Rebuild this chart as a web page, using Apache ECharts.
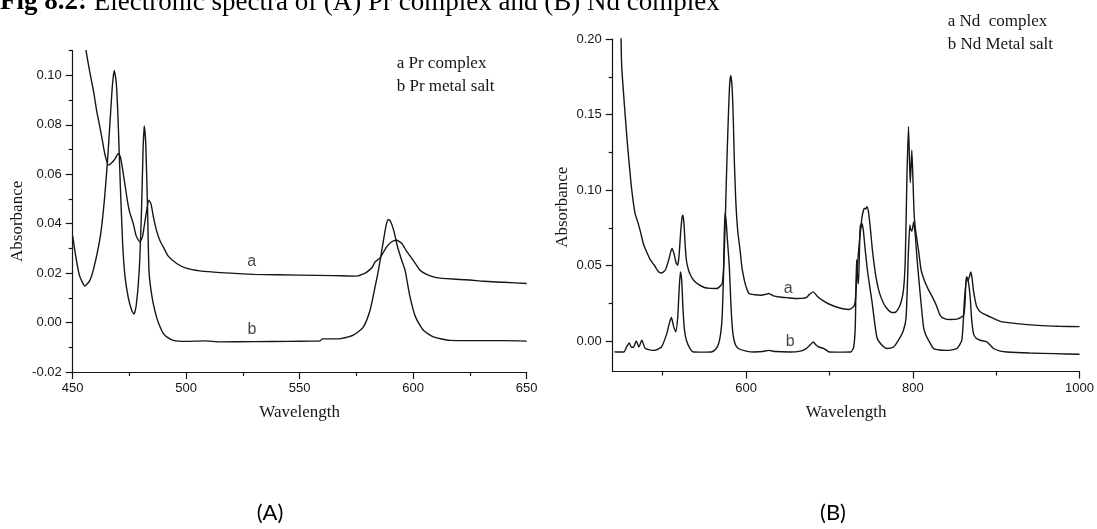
<!DOCTYPE html>
<html><head><meta charset="utf-8">
<script src="https://cdn.jsdelivr.net/npm/echarts@6/dist/echarts.min.js"></script>
<style>html,body{margin:0;padding:0;background:#fff}#c{width:1097px;height:529px}</style>
</head><body><div id="c"></div>
<script>
// ---------- DATA ----------
// (A) Pr complex (curve a)
var prComplexX = [450,452,454,455.9,457.6,459.1,460.5,462,463.2,464.2,465.7,467,468.5,470.1,471,472,473.8,475,476.7,478,479.6,480.8,482,483.6,484.5,485.5,487,488.5,489.9,492,495.8,500,506,515,530,550,565,575,578.4,580,582,583.2,585.4,588.3,590.5,592.7,595,597,600,603,605.9,608.9,612,616,625,631,640,650];
var prComplexY = [0.17,0.145,0.125,0.110,0.101,0.094,0.086,0.079,0.073,0.068,0.0637,0.0645,0.066,0.0684,0.067,0.062,0.051,0.045,0.040,0.035,0.0326,0.035,0.042,0.0495,0.048,0.043,0.037,0.033,0.0306,0.027,0.0239,0.022,0.0209,0.0202,0.0195,0.0192,0.019,0.0188,0.0198,0.0207,0.0225,0.0245,0.0262,0.0306,0.0327,0.0333,0.032,0.029,0.0252,0.0212,0.0195,0.0185,0.018,0.0177,0.0172,0.0167,0.0163,0.0158];
// (A) Pr metal salt (curve b)
var prSaltX = [450,451.5,453,455.4,457.5,459,461,462.5,464,465.3,466.5,467.5,468.3,469.2,470,471,472,473,474.5,476,477,478,479.3,480.3,481,481.5,482.2,483,483.6,484.5,485.5,487,488.5,490,491.4,494.3,500,508,515,530,545,555,559,560,565,568,573.6,578,581,583.2,584.7,586.5,588,589,590,591.5,593,595,596.4,598.6,601,604.5,608.9,616.2,630,640,650];
var prSaltY = [0.035,0.026,0.019,0.0148,0.017,0.021,0.029,0.037,0.050,0.065,0.082,0.096,0.102,0.097,0.082,0.055,0.032,0.019,0.010,0.005,0.0034,0.007,0.021,0.045,0.070,0.0796,0.072,0.045,0.021,0.013,0.0077,0.002,-0.0018,-0.0045,-0.0058,-0.0072,-0.0076,-0.0074,-0.0078,-0.0077,-0.0076,-0.0075,-0.0074,-0.0066,-0.0066,-0.0065,-0.0051,-0.0018,0.005,0.0144,0.0212,0.031,0.039,0.0417,0.041,0.037,0.031,0.025,0.0212,0.0104,0.0023,-0.0031,-0.0058,-0.0072,-0.0073,-0.0073,-0.0075];
// (B) Nd complex (curve a)
var ndComplexX = [447,450,450.8,454.8,457.6,461.6,464,466.8,470,472.8,476.7,480,485,489.9,495,498.5,503,507.1,509.5,511.3,513.5,516,517.8,519.5,521.5,523.2,524.2,525.5,527,528.4,531,534,537.1,542,549.9,557,564.9,568,571.3,573,574.8,576.5,578.5,580.3,581.6,583,584.5,586,587.6,590,592.8,595,597.9,600,603.4,610,618.4,623,627.1,633,639.9,650,661.3,667,672,676,680.6,685,691.3,700,708.4,716,723.4,727,729.9,731.5,733,735,737,739,741,742.5,743.5,745,747,749,752,756,760,765,770,775,778,782,786,789,791,793,794.8,796,797,798.8,800,801.5,803,806.8,810,814,818,822.8,828,832.8,838,844.8,850,854.8,858,860.8,862.5,864.2,866,867.5,869.6,871,872.7,874.5,876.8,882,892.8,904.8,924.8,950,975,1000];
var ndComplexY = [0.24,0.20,0.1817,0.1508,0.1309,0.1066,0.095,0.0846,0.079,0.0735,0.0647,0.060,0.054,0.0503,0.046,0.0452,0.047,0.0536,0.059,0.0614,0.058,0.052,0.0503,0.056,0.072,0.082,0.0834,0.078,0.063,0.0536,0.047,0.043,0.0404,0.038,0.0356,0.035,0.0349,0.036,0.0382,0.048,0.075,0.11,0.145,0.170,0.1757,0.170,0.150,0.118,0.0934,0.073,0.0603,0.049,0.0404,0.036,0.0316,0.0308,0.0305,0.031,0.0316,0.030,0.0293,0.0288,0.0283,0.0284,0.0289,0.031,0.0327,0.030,0.0272,0.0245,0.0227,0.0215,0.021,0.022,0.0238,0.030,0.045,0.060,0.072,0.082,0.087,0.088,0.0875,0.089,0.085,0.075,0.058,0.042,0.032,0.025,0.021,0.019,0.019,0.021,0.026,0.035,0.055,0.11,0.142,0.120,0.105,0.1265,0.110,0.085,0.075,0.0603,0.047,0.040,0.035,0.030,0.024,0.0172,0.015,0.0144,0.0145,0.015,0.016,0.017,0.024,0.0426,0.040,0.042,0.0459,0.042,0.0338,0.028,0.0227,0.019,0.0161,0.0132,0.0117,0.0105,0.0099,0.0097];
// (B) Nd metal salt (curve b)
var ndSaltX = [442,444.9,453.4,456.5,459.9,462.5,465.1,468.4,471.4,474.9,479.2,489.9,498.5,504.9,507.5,510.4,513,515.6,518,519.5,521.2,522.8,524.2,526,528.4,532.8,537.1,548,558.4,564,567.1,569.5,571.3,573,574.5,576,577.5,579.9,582,584.2,587,590.6,600,609.9,620,627.1,635,652.8,665,672.1,676,680.6,684,687.1,693.5,699.9,712,725.6,729,731,732.5,733.8,734.8,736,736.8,737.8,739,740.6,743,746,750.8,756.8,762,768.8,776.8,782.8,788.8,792,794.8,796.5,797.5,799,801,803,805,808.8,812.8,815,818.8,824.8,832,840.8,852.8,858.8,861.9,864.8,866.5,868.8,870.5,872.8,876,880.8,888.8,896.8,905,912.8,940,970,1000];
var ndSaltY = [-0.007,-0.0071,-0.0071,-0.004,-0.0011,-0.004,-0.0038,0.0002,-0.0038,0.0007,-0.0048,-0.006,-0.0038,0.0051,0.011,0.0157,0.010,0.0062,0.016,0.032,0.0459,0.040,0.0227,0.008,0.0007,-0.0048,-0.0071,-0.0072,-0.0071,-0.005,-0.0015,0.005,0.0161,0.045,0.0846,0.080,0.068,0.0492,0.022,0.0051,-0.002,-0.0048,-0.0065,-0.0071,-0.0068,-0.006,-0.0068,-0.0071,-0.0065,-0.0048,-0.003,-0.0005,-0.0025,-0.0038,-0.0048,-0.0071,-0.0072,-0.0071,-0.004,0.010,0.054,0.042,0.038,0.060,0.077,0.075,0.078,0.0735,0.060,0.045,0.0272,0.0028,-0.002,-0.0048,-0.0038,0.0007,0.0073,0.0161,0.0603,0.077,0.074,0.073,0.079,0.070,0.055,0.0316,0.0095,0.005,0.0007,-0.0048,-0.0058,-0.006,-0.0048,0.0007,0.0272,0.0426,0.040,0.0293,0.015,0.0051,0.002,0.0007,-0.0004,-0.0048,-0.0065,-0.0071,-0.0078,-0.0082,-0.0086];

// tick values
var prXTicks = [450,500,550,600,650];
var prXMinor = [475,525,575,625];
var prYTicks = [-0.02,0,0.02,0.04,0.06,0.08,0.10];
var prYMinor = [-0.01,0.01,0.03,0.05,0.07,0.09,0.11];
var ndXTicks = [600,800,1000];
var ndXMinor = [500,700,900];
var ndYTicks = [0,0.05,0.10,0.15,0.20];
var ndYMinor = [0.025,0.075,0.125,0.175];

// curve labels (value coordinates)
var prLabelA = [528.9,0.0247], prLabelB = [529,-0.0028];
var ndLabelA = [650.6,0.0349], ndLabelB = [652.8,0.0];

// ---------- CHART ----------
function zip(xs, ys){ var r=[]; for(var i=0;i<xs.length;i++) r.push([xs[i],ys[i]]); return r; }
var INK = '#161616';
var SANS = "'Liberation Sans', Arial, sans-serif";
var SERIF = "'Liberation Serif', 'Times New Roman', serif";

function mainX(grid, min, max, ticks, gap){
  return {type:'value', gridIndex:grid, position:'bottom', min:min, max:max, name:'Wavelength', nameLocation:'middle', nameGap:gap,
    nameTextStyle:{fontFamily:SERIF, fontSize:17, color:INK},
    axisLine:{show:true, onZero:false, lineStyle:{color:INK, width:1.2}},
    axisTick:{show:true, customValues:ticks, length:7, lineStyle:{color:INK, width:1.2}},
    axisLabel:{show:true, customValues:ticks, margin:10, fontFamily:SANS, fontSize:13, color:INK,
      formatter:function(v){ return String(v); }},
    splitLine:{show:false}};
}
function minorX(grid, min, max, ticks){
  return {type:'value', gridIndex:grid, position:'bottom', offset:0, min:min, max:max,
    axisLine:{show:false, onZero:false}, axisLabel:{show:false}, splitLine:{show:false},
    axisTick:{show:true, customValues:ticks, length:4, lineStyle:{color:INK, width:1.2}}};
}
function mainY(grid, min, max, ticks, gap, pad){
  return {type:'value', gridIndex:grid, position:'left', min:min, max:max, name:'Absorbance', nameLocation:'middle', nameGap:gap,
    nameTextStyle:{fontFamily:SERIF, fontSize:17, color:INK, padding:pad},
    axisLine:{show:true, onZero:false, lineStyle:{color:INK, width:1.2}},
    axisTick:{show:true, customValues:ticks, length:7, lineStyle:{color:INK, width:1.2}},
    axisLabel:{show:true, customValues:ticks, margin:11, fontFamily:SANS, fontSize:13, color:INK,
      formatter:function(v){ return (Math.abs(v)<1e-9?0:v).toFixed(2); }},
    splitLine:{show:false}};
}
function minorY(grid, min, max, ticks){
  return {type:'value', gridIndex:grid, position:'left', offset:0, min:min, max:max,
    axisLine:{show:false, onZero:false}, axisLabel:{show:false}, splitLine:{show:false},
    axisTick:{show:true, customValues:ticks, length:4, lineStyle:{color:INK, width:1.2}}};
}
function curve(name, xi, yi, data){
  return {type:'line', name:name, xAxisIndex:xi, yAxisIndex:yi, data:data, showSymbol:false, symbol:'none',
    smooth:0.2, clip:true, lineStyle:{color:INK, width:1.4}, silent:true, z:3};
}
function tag(text, xi, yi, pt){
  return {type:'scatter', xAxisIndex:xi, yAxisIndex:yi, data:[pt], symbolSize:1, itemStyle:{color:'rgba(0,0,0,0)'}, silent:true,
    label:{show:true, position:'inside', formatter:text, fontFamily:SANS, fontSize:16, color:INK}};
}

var chart = echarts.init(document.getElementById('c'), null, {renderer:'canvas'});
chart.setOption({
  animation:false,
  backgroundColor:'#fff',
  grid:[
    {left:72.7, top:50.7, width:454, height:321.3, containLabel:false},
    {left:612.7, top:39, width:467.3, height:332.5, containLabel:false}
  ],
  xAxis:[ mainX(0,450,650,prXTicks,32), minorX(0,450,650,prXMinor),
          mainX(1,440,1000,ndXTicks,33), minorX(1,440,1000,ndXMinor) ],
  yAxis:[ mainY(0,-0.02,0.11,prYTicks,47,[0,20,0,0]), minorY(0,-0.02,0.11,prYMinor),
          mainY(1,-0.02,0.20,ndYTicks,42,[0,4,0,0]), minorY(1,-0.02,0.20,ndYMinor) ],
  series:[
    curve('a Pr complex',0,0,zip(prComplexX,prComplexY)),
    curve('b Pr metal salt',0,0,zip(prSaltX,prSaltY)),
    curve('a Nd complex',2,2,zip(ndComplexX,ndComplexY)),
    curve('b Nd Metal salt',2,2,zip(ndSaltX,ndSaltY)),
    tag('a',0,0,prLabelA), tag('b',0,0,prLabelB),
    tag('a',2,2,ndLabelA), tag('b',2,2,ndLabelB)
  ],
  graphic:[
    {type:'text', left:0, top:-11, style:{text:'{b|Fig 8.2:} Electronic spectra of (A) Pr complex and (B) Nd complex',
      font:"27px 'Liberation Serif', serif", fill:'#000',
      rich:{b:{fontFamily:"'Liberation Serif', serif", fontWeight:'bold', fontSize:27, fill:'#000'}}}},
    {type:'text', x:396.7, y:63.3, style:{text:'a Pr complex', font:"17px 'Liberation Serif', serif", fill:INK, verticalAlign:'middle'}},
    {type:'text', x:396.7, y:87, style:{text:'b Pr metal salt', font:"17px 'Liberation Serif', serif", fill:INK, verticalAlign:'middle'}},
    {type:'text', x:947.7, y:22, style:{text:'a Nd  complex', font:"17px 'Liberation Serif', serif", fill:INK, verticalAlign:'middle'}},
    {type:'text', x:947.7, y:45, style:{text:'b Nd Metal salt', font:"17px 'Liberation Serif', serif", fill:INK, verticalAlign:'middle'}},
    {type:'text', x:270, y:513, style:{text:'(A)', font:"22px Lato, 'Open Sans', sans-serif", fill:'#000', align:'center', verticalAlign:'middle'}},
    {type:'text', x:833, y:513, style:{text:'(B)', font:"22px Lato, 'Open Sans', sans-serif", fill:'#000', align:'center', verticalAlign:'middle'}}
  ]
});
</script>
</body></html>
